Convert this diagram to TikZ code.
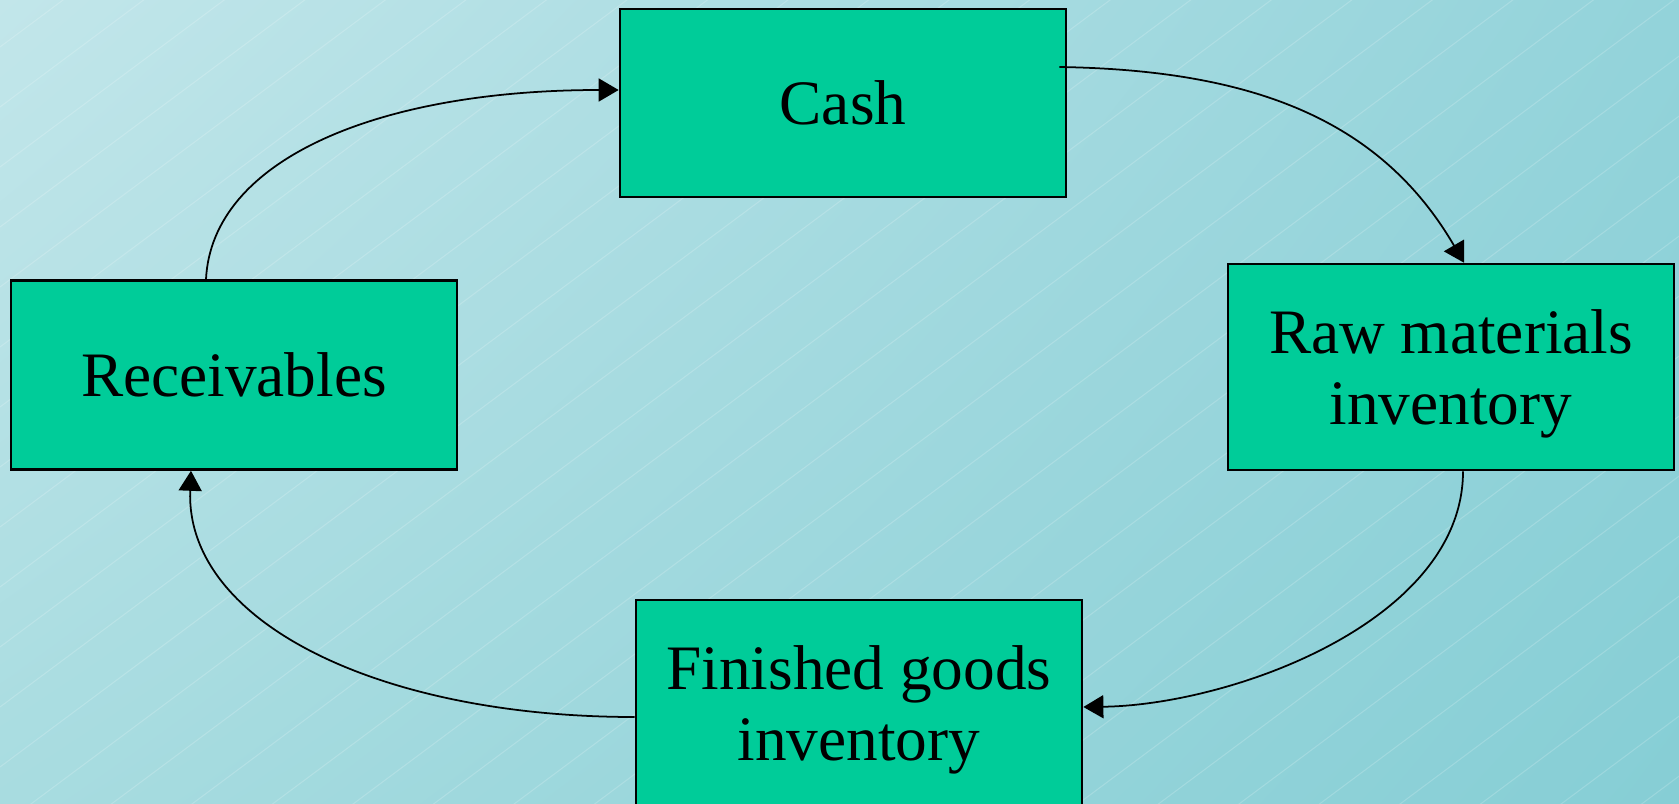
\documentclass[tikz,border=0pt]{standalone}
\usepackage{fontspec}
\setmainfont{Liberation Serif}
\usetikzlibrary{arrows.meta, calc, shadings}

\definecolor{bgtl}{RGB}{194,230,234}
\definecolor{bgtr}{RGB}{147,211,218}
\definecolor{bgbl}{RGB}{168,220,224}
\definecolor{bgbr}{RGB}{134,206,213}
\definecolor{boxgreen}{RGB}{0,204,153}

\begin{document}
\begin{tikzpicture}[x=0.01cm, y=-0.01cm,
  stagebox/.style={draw=black, line width=0.7pt, fill=boxgreen, inner sep=0pt,
    minimum width=4.46cm, align=center, font=\fontsize{18}{20}\selectfont},
  flow/.style={line width=0.5pt, -{Triangle[length=2mm, width=2.3mm]}}]
% background: gradient with faint diagonal lines
\useasboundingbox (0,0) rectangle (1679,803);
\shade[upper left=bgtl, upper right=bgtr, lower left=bgbl, lower right=bgbr]
  (0,0) rectangle (1679,803);
\begin{scope}
\clip (0,0) rectangle (1679,803);
\foreach \k in {0,...,35}
  \draw[white, opacity=0.18, line width=0.3pt] (0,{47+60*\k}) -- ++(2800,-2086);
\end{scope}
% the four stages
\node[stagebox, minimum height=1.88cm] (cash) at (843,103) {Cash};
\node[stagebox, minimum height=2.06cm, text depth=0pt] (raw) at (1451,367) {Raw materials\\inventory};
\node[stagebox, minimum height=2.06cm, text depth=0pt] (finished) at (859,703) {Finished goods\\inventory};
\node[stagebox, minimum height=1.89cm] (receivables) at (234,375) {Receivables};
% the cycle
\draw[flow] ([shift={(-8,-36)}]cash.east) .. controls +(192,3) and +(-84,-144) .. ([shift={(13,0)}]raw.north);
\draw[flow] ([shift={(12,0)}]raw.south) .. controls +(0,150) and +(148,-2) .. ([shift={(0,4)}]finished.east);
\draw[flow] ([shift={(0,14)}]finished.west) .. controls +(-256,0) and +(-6,151) .. ([shift={(-43,0)}]receivables.south);
\draw[flow] ([shift={(-28,0)}]receivables.north) .. controls +(6,-120) and +(-240,0) .. ([shift={(0,-13)}]cash.west);
\end{tikzpicture}
\end{document}
